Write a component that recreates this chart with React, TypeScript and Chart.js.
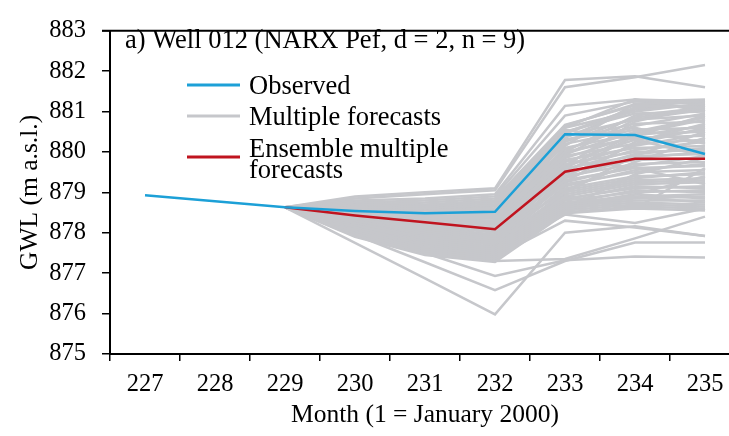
import React, { useEffect, useRef } from "react";
import { Chart, registerables } from "chart.js";

Chart.register(...registerables);

const months = ["227", "228", "229", "230", "231", "232", "233", "234", "235"];
const yTicks = [875, 876, 877, 878, 879, 880, 881, 882, 883];

const observed = [878.93, 878.78, 878.63, 878.54, 878.48, 878.52, 880.44, 880.42, 879.95];
const ensemble = [null, null, 878.63, 878.43, 878.26, 878.09, 879.51, 879.83, 879.83];

// Multiple forecasts, months 229..235
const forecasts: number[][] = [
  [878.63, 878.90, 879.00, 879.10, 881.78, 881.87, 881.60],
  [878.63, 878.85, 878.95, 879.05, 881.60, 881.85, 882.15],
  [878.63, 878.80, 878.85, 878.95, 881.14, 881.30, 881.25],
  [878.63, 878.75, 878.80, 878.90, 880.90, 881.25, 881.30],
  [878.63, 878.70, 878.75, 878.85, 880.67, 881.15, 881.10],
  [878.63, 878.75, 878.70, 878.80, 880.60, 881.00, 881.20],
  [878.63, 878.70, 878.65, 878.75, 880.50, 880.95, 881.00],
  [878.63, 878.65, 878.60, 878.70, 880.40, 880.80, 880.90],
  [878.63, 878.60, 878.55, 878.60, 880.30, 880.70, 880.75],
  [878.63, 878.60, 878.50, 878.50, 880.20, 880.55, 880.60],
  [878.63, 878.55, 878.45, 878.45, 880.10, 880.45, 880.50],
  [878.63, 878.55, 878.40, 878.35, 880.00, 880.35, 880.40],
  [878.63, 878.50, 878.35, 878.30, 879.90, 880.20, 880.30],
  [878.63, 878.50, 878.30, 878.20, 879.80, 880.10, 880.15],
  [878.63, 878.45, 878.30, 878.15, 879.70, 880.00, 880.05],
  [878.63, 878.45, 878.25, 878.10, 879.60, 879.90, 879.95],
  [878.63, 878.40, 878.20, 878.00, 879.50, 879.80, 879.85],
  [878.63, 878.40, 878.15, 877.95, 879.40, 879.70, 879.75],
  [878.63, 878.35, 878.10, 877.90, 879.30, 879.60, 879.65],
  [878.63, 878.35, 878.05, 877.85, 879.20, 879.50, 879.55],
  [878.63, 878.30, 878.00, 877.80, 879.10, 879.40, 879.45],
  [878.63, 878.30, 877.95, 877.75, 879.00, 879.30, 879.35],
  [878.63, 878.25, 877.90, 877.70, 878.90, 879.20, 879.25],
  [878.63, 878.25, 877.85, 877.65, 878.85, 879.10, 879.15],
  [878.63, 878.20, 877.80, 877.60, 878.80, 879.00, 879.05],
  [878.63, 878.20, 877.75, 877.55, 878.75, 878.90, 878.95],
  [878.63, 878.15, 877.70, 877.50, 878.70, 878.85, 878.90],
  [878.63, 878.10, 877.65, 877.45, 878.65, 878.80, 878.80],
  [878.63, 878.05, 877.60, 877.40, 878.60, 878.75, 878.70],
  [878.63, 878.00, 877.55, 877.35, 878.55, 878.70, 878.65],
  [878.63, 877.95, 877.50, 877.30, 878.50, 878.65, 878.60],
  [878.63, 877.90, 877.45, 877.28, 878.48, 878.60, 878.55],
  [878.63, 878.60, 878.60, 878.70, 880.00, 880.90, 881.10],
  [878.63, 878.40, 878.20, 878.10, 880.30, 880.60, 880.20],
  [878.63, 878.50, 878.40, 878.40, 879.50, 880.40, 880.90],
  [878.63, 878.30, 878.00, 877.70, 879.80, 879.60, 879.20],
  [878.63, 878.20, 877.90, 877.60, 879.00, 879.90, 880.50],
  [878.63, 878.55, 878.50, 878.55, 880.55, 880.30, 879.90],
  [878.63, 878.10, 877.70, 877.50, 878.90, 878.60, 879.60],
  [878.63, 878.45, 878.30, 878.25, 880.60, 881.30, 881.00],
  [878.63, 878.65, 878.55, 878.65, 880.15, 881.20, 881.25],
  [878.63, 878.35, 878.25, 878.30, 879.65, 880.75, 881.15],
  [878.63, 878.25, 878.05, 877.95, 879.25, 880.25, 880.70],
  [878.63, 878.40, 878.10, 877.88, 879.05, 879.75, 880.35],
  [878.63, 878.15, 877.85, 877.65, 878.60, 879.45, 879.85],
  [878.63, 878.05, 877.70, 877.45, 878.55, 878.95, 879.40],
  [878.63, 878.72, 878.68, 878.78, 880.45, 881.10, 881.28],
  [878.63, 878.68, 878.62, 878.66, 880.35, 881.05, 881.18],
  [878.63, 878.62, 878.52, 878.55, 880.25, 880.85, 881.05],
  [878.63, 878.58, 878.48, 878.42, 880.05, 880.65, 880.95],
  [878.63, 878.52, 878.42, 878.38, 879.95, 880.50, 880.85],
  [878.63, 878.48, 878.38, 878.28, 879.85, 880.40, 880.65],
  [878.63, 878.47, 878.33, 878.22, 879.75, 880.30, 880.55],
  [878.63, 878.42, 878.28, 878.12, 879.65, 880.15, 880.45],
  [878.63, 878.38, 878.18, 878.02, 879.55, 880.05, 880.25],
  [878.63, 878.33, 878.12, 877.92, 879.45, 879.95, 880.10],
  [878.63, 878.28, 878.02, 877.82, 879.35, 879.85, 880.00],
  [878.63, 878.27, 877.98, 877.78, 879.25, 879.65, 879.90],
  [878.63, 878.22, 877.92, 877.72, 879.15, 879.55, 879.70],
  [878.63, 878.18, 877.88, 877.62, 879.05, 879.35, 879.50],
  [878.63, 878.12, 877.78, 877.58, 878.95, 879.25, 879.30],
  [878.63, 878.08, 877.72, 877.52, 878.82, 879.15, 879.10],
  [878.63, 878.02, 877.62, 877.42, 878.72, 879.05, 879.00],
  [878.63, 877.98, 877.58, 877.38, 878.68, 878.95, 878.85],
  [878.63, 877.92, 877.52, 877.32, 878.62, 878.88, 878.75],
  [878.63, 878.58, 878.50, 878.58, 880.65, 881.18, 881.22],
  [878.63, 878.52, 878.45, 878.48, 880.48, 881.08, 881.15],
  [878.63, 878.36, 878.15, 878.05, 879.92, 880.80, 881.05],
  [878.63, 878.22, 877.95, 877.75, 879.60, 880.45, 880.80],
  [878.63, 878.12, 877.82, 877.55, 879.38, 880.20, 880.60],
  [878.63, 877.75, 876.87, 875.98, 878.00, 878.16, 877.92],
  [878.63, 877.95, 877.27, 876.58, 877.30, 877.76, 877.76],
  [878.63, 878.07, 877.50, 876.93, 877.32, 877.41, 877.39],
  [878.63, 877.95, 877.55, 877.30, 877.35, 877.86, 878.40],
  [878.63, 878.05, 877.70, 877.50, 878.45, 878.24, 878.60],
  [878.63, 878.00, 877.60, 877.40, 878.30, 878.13, 877.92],
];

const BLUE = "#1ca0d7";
const RED = "#c0141f";
const GRAY = "#c6c7cb";
const FONT = "'Liberation Serif', 'Times New Roman', serif";

const titleText = "a) Well 012 (NARX Pef, d = 2, n = 9)";
const legendItems = [
  { color: BLUE, lines: ["Observed"] },
  { color: GRAY, lines: ["Multiple forecasts"] },
  { color: RED, lines: ["Ensemble multiple", "forecasts"] },
];

const overlayPlugin = {
  id: "overlay",
  afterDraw(chart: any) {
    const { ctx, chartArea } = chart;
    ctx.save();
    // top frame line
    ctx.strokeStyle = "#000";
    ctx.lineWidth = 2;
    ctx.beginPath();
    ctx.moveTo(chartArea.left - 8, chartArea.top);
    ctx.lineTo(chart.width, chartArea.top);
    ctx.stroke();
    // panel title
    ctx.fillStyle = "#000";
    ctx.textBaseline = "alphabetic";
    ctx.textAlign = "left";
    ctx.font = `26.5px ${FONT}`;
    ctx.fillText(titleText, chartArea.left + 15, 48);
    // legend
    ctx.font = `26.5px ${FONT}`;
    const ys = [85, 116, 157];
    legendItems.forEach((item, i) => {
      const y = ys[i];
      ctx.strokeStyle = item.color;
      ctx.lineWidth = 3;
      ctx.beginPath();
      ctx.moveTo(187, y);
      ctx.lineTo(240, y);
      ctx.stroke();
      ctx.fillStyle = "#000";
      if (item.lines.length === 1) {
        ctx.textBaseline = "alphabetic";
        ctx.fillText(item.lines[0], 249, y + 9);
      } else {
        ctx.textBaseline = "alphabetic";
        ctx.fillText(item.lines[0], 249, 157);
        ctx.fillText(item.lines[1], 249, 178);
      }
    });
    ctx.restore();
  },
};

export default function App() {
  const ref = useRef<HTMLCanvasElement>(null);
  useEffect(() => {
    const pad = (row: number[]) => [null, null, ...row];
    const grayDs = forecasts.map((row, i) => ({
      label: i === 0 ? "Multiple forecasts" : "",
      data: pad(row),
      borderColor: GRAY,
      borderWidth: 2.5,
      pointRadius: 0,
      tension: 0,
      spanGaps: false,
    }));
    const chart = new Chart(ref.current as HTMLCanvasElement, {
      type: "line",
      data: {
        labels: months,
        datasets: [
          { label: "Observed", data: observed, borderColor: BLUE, borderWidth: 2.5, pointRadius: 0, tension: 0 },
          { label: "Ensemble multiple forecasts", data: ensemble, borderColor: RED, borderWidth: 2.5, pointRadius: 0, tension: 0 },
          ...grayDs,
        ],
      },
      options: {
        responsive: false,
        animation: false,
        devicePixelRatio: 1,
        layout: { padding: { top: 19, right: 20, left: 0, bottom: 0 } },
        plugins: { legend: { display: false }, tooltip: { enabled: false }, title: { display: false } },
        scales: {
          x: {
            type: "category",
            offset: true,
            grid: { offset: true, drawOnChartArea: false, tickLength: 7, color: "#000", lineWidth: 1.5 },
            border: { color: "#000", width: 2 },
            ticks: { color: "#000", font: { family: FONT, size: 24.5 }, padding: 9, maxRotation: 0 },
            title: { display: true, text: "Month (1 = January 2000)", color: "#000", font: { family: FONT, size: 25.5 }, padding: { top: 0, bottom: 5 } },
            afterFit: (s: any) => { s.height = 82; },
          },
          y: {
            min: 875,
            max: 883,
            afterBuildTicks: (s: any) => { s.ticks = yTicks.map((v) => ({ value: v })); },
            grid: { drawOnChartArea: false, tickLength: 8, color: "#000", lineWidth: 1.5 },
            border: { color: "#000", width: 2 },
            ticks: { color: "#000", font: { family: FONT, size: 24.5 }, padding: 16 },
            title: { display: true, text: "GWL (m a.s.l.)", color: "#000", font: { family: FONT, size: 25.5 }, padding: { top: 15, bottom: 0 } },
            afterFit: (s: any) => { s.width = 110; },
          },
        },
      },
      plugins: [overlayPlugin],
    });
    return () => chart.destroy();
  }, []);
  return (
    <div style={{ position: "absolute", left: 0, top: 0, width: 729, height: 436, overflow: "hidden", background: "#fff" }}>
      <canvas ref={ref} width={760} height={436} style={{ display: "block" }} />
    </div>
  );
}
